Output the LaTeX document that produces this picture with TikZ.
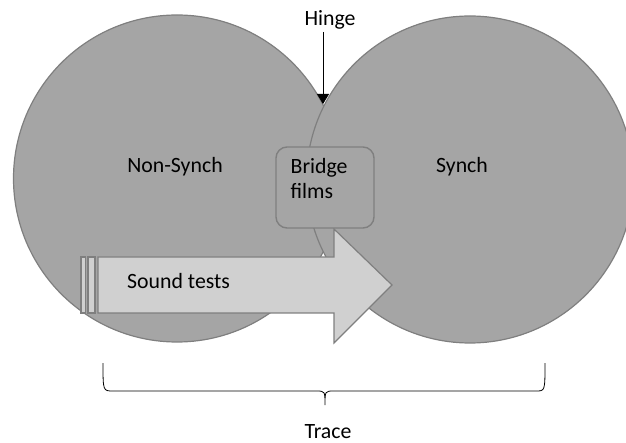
\documentclass[tikz,border=0pt]{standalone}
\usepackage{fontspec}
\setmainfont{Carlito}
\usetikzlibrary{arrows.meta}
\definecolor{circfill}{HTML}{A5A5A5}
\definecolor{edgegray}{HTML}{7F7F7F}
\definecolor{arrowfill}{HTML}{D0D0D0}
\begin{document}
\begin{tikzpicture}[x=1pt,y=-1pt,
  lbl/.style={font=\fontsize{21.8}{26}\selectfont, inner sep=0pt, text=black, anchor=base},
  bigcirc/.style={circle, draw=edgegray, fill=circfill, line width=1.2pt, minimum size=327pt, inner sep=0pt},
  bridgebox/.style={draw=edgegray, fill=circfill, line width=1.4pt, rounded corners=11pt},
  tailbar/.style={draw=edgegray, fill=arrowfill, line width=1.2pt}]
\useasboundingbox (0,0) rectangle (626,443);
% circles
\node[bigcirc] (left) at (177,178.5) {};
\node[bigcirc] (right) at (470,179.5) {};
\node[lbl] (nonsynch) at (175,173) {Non-Synch};
\node[lbl] (synch) at (462,173) {Synch};
% sound tests arrow
\draw[tailbar] (81,257) rectangle (85.5,313);
\draw[tailbar] (88,257) rectangle (95,313);
\draw[tailbar, line join=miter] (98,257) -- (334,257) -- (334,229) -- (392,285) -- (334,343) -- (334,313) -- (98,313) -- cycle;
\node[lbl, anchor=base west] (sound) at (127,289) {Sound tests};
% bridge box
\draw[bridgebox] (276,147) rectangle (374,228);
\node[lbl, anchor=base west] (bridge) at (290.5,173.3) {Bridge};
\node[lbl, anchor=base west] (films) at (290.5,199) {films};
% hinge
\node[lbl] (hinge) at (330,26) {Hinge};
\coordinate (hingept) at (323,104);
\draw[line width=0.8pt, -{Triangle[width=12pt,length=10pt]}] (323,32) -- (hingept);
% brace
\coordinate (bl) at (103,363);
\coordinate (br) at (545,363);
\coordinate (btip) at (325,405);
\draw[line width=0.8pt] (bl) .. controls (103,391) .. (113,391) -- (316,391) .. controls (325,391) .. (btip)
  .. controls (325,391) .. (334,391) -- (536,391) .. controls (545,391) .. (br);
\node[lbl] (trace) at (328,438) {Trace};
\end{tikzpicture}
\end{document}
